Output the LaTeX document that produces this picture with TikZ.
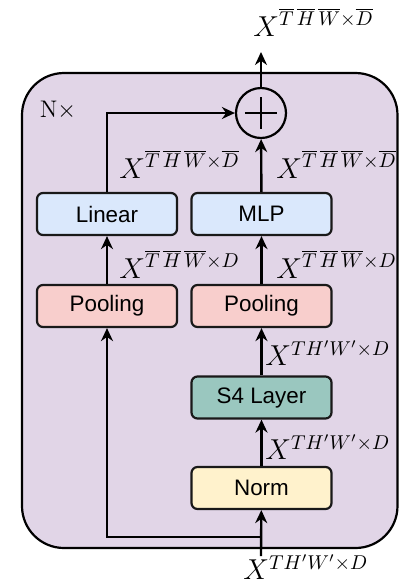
\documentclass[tikz,border=0pt]{standalone}
\usepackage{fontspec}
\setsansfont{Liberation Sans}
\usetikzlibrary{arrows.meta}

\definecolor{blockbg}{HTML}{E1D5E7}
\definecolor{linbg}{HTML}{DAE8FC}
\definecolor{poolbg}{HTML}{F8CECC}
\definecolor{ssmbg}{HTML}{9AC7BF}
\definecolor{normbg}{HTML}{FFF2CC}

\begin{document}
\begin{tikzpicture}[x=0.5pt, y=-0.5pt, >={Stealth[length=6.5pt,width=6pt]},
      every node/.append style={text=black},
      box/.style={draw=black!90, line width=1.1pt, rounded corners=3pt, minimum width=70pt, minimum height=21pt,
        inner sep=0pt, font=\sffamily\fontsize{11.2}{13}\selectfont},
      dim/.style={font=\Large, inner sep=0pt, anchor=west},
      flow/.style={->, black, line width=1.2pt}]

    \useasboundingbox (0,0) rectangle (399,586);

    % repeated block (N times)
    \draw[fill=blockbg, draw=black, line width=1.1pt, rounded corners=21pt] (22,73) rectangle (397.5,548);
    \node[font=\large] (rep) at (58,110) {N$\times$};

    % left branch: pooled shortcut
    \node[box, fill=poolbg] (poolL) at (107,306) {Pooling};
    \node[box, fill=linbg]  (linear) at (107,214) {Linear};

    % right branch: norm, S4, pooling, MLP
    \node[box, fill=normbg] (norm) at (261.5,488) {Norm};
    \node[box, fill=ssmbg]  (s4)   at (261.5,397.5) {S4 Layer};
    \node[box, fill=poolbg] (poolR) at (261.5,306) {Pooling};
    \node[box, fill=linbg]  (mlp)   at (261.5,214) {MLP};

    % sum
    \node[circle, draw=black, line width=1.1pt, minimum size=25pt, inner sep=0pt] (plus) at (261,113) {};
    \draw[line width=1.1pt] (plus.center) ++(-16,0) -- ++(32,0);
    \draw[line width=1.1pt] (plus.center) ++(0,-16) -- ++(0,32);

    % input / output
    \coordinate (in)    at (261,556);
    \coordinate (split) at (261,537);
    \coordinate (out)   at (261,52);
    \node[dim] (xin)  at (243,567) {$X^{TH'W'\times D}$};
    \node[dim] (xout) at (253,22)  {$X^{\overline{T}\,\overline{H}\,\overline{W}\times\overline{D}}$};

    % connections
    \draw[flow] (in) -- (norm);
    \draw[flow] (split) -| (poolL);
    \draw[flow] (norm) -- (s4);
    \draw[flow] (s4) -- (poolR);
    \draw[flow] (poolR) -- (mlp);
    \draw[flow] (mlp) -- (plus);
    \draw[flow] (poolL) -- (linear);
    \draw[flow] (linear) |- (plus);
    \draw[flow] (plus) -- (out);

    % tensor shapes along the arrows
    \node[dim] at (119,164) {$X^{\overline{T}\,\overline{H}\,\overline{W}\times\overline{D}}$};
    \node[dim] at (276,164) {$X^{\overline{T}\,\overline{H}\,\overline{W}\times\overline{D}}$};
    \node[dim] at (119,264) {$X^{\overline{T}\,\overline{H}\,\overline{W}\times D}$};
    \node[dim] at (276,264) {$X^{\overline{T}\,\overline{H}\,\overline{W}\times D}$};
    \node[dim] at (265,353) {$X^{TH'W'\times D}$};
    \node[dim] at (265,447) {$X^{TH'W'\times D}$};
  \end{tikzpicture}
\end{document}
